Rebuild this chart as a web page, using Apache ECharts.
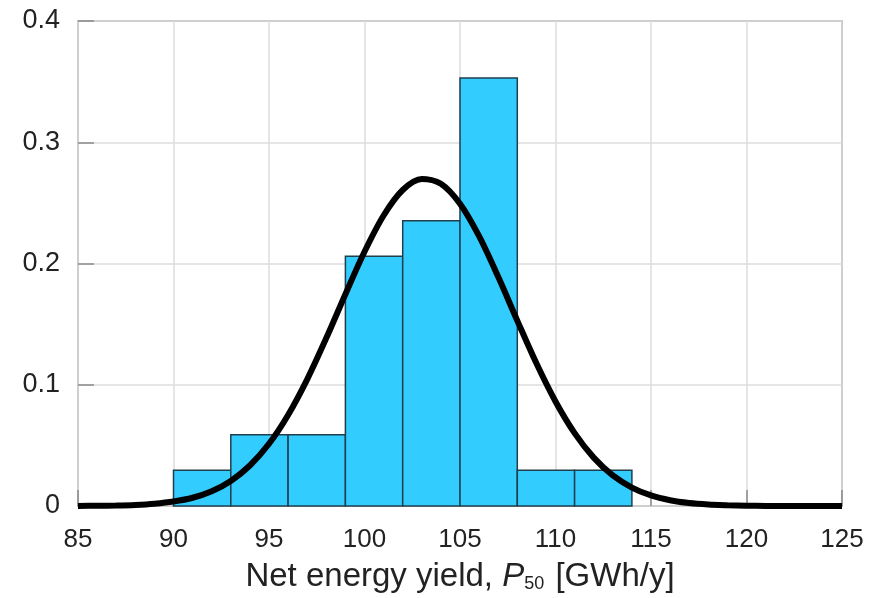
<!DOCTYPE html>
<html>
<head>
<meta charset="utf-8">
<script src="https://cdn.jsdelivr.net/npm/echarts@6/dist/echarts.min.js"></script>
<style>html,body{margin:0;padding:0;background:#fff;}#c{width:879px;height:598px;}</style>
</head>
<body>
<div id="c"></div>
<script>
// Histogram bins (GWh/y) and relative frequencies
const binStart = [90, 93, 96, 99, 102, 105, 108, 111];
const binEnd   = [93, 96, 99, 102, 105, 108, 111, 114];
const binFreq  = [0.0294, 0.0588, 0.0588, 0.2059, 0.2353, 0.3529, 0.0294, 0.0294];

// Fitted curve
const curveX = [85,86,87,88,89,90,91,92,93,94,95,96,97,98,99,100,101,102,103,104,105,
                106,107,108,109,110,111,112,113,114,115,116,117,118,119,120,121,122,123,124,125];
const curveY = [0.0001,0.0002,0.0004,0.0009,0.0019,0.0037,0.0068,0.0122,0.0207,0.0334,0.0513,
                0.0751,0.1045,0.1385,0.1747,0.2097,0.2396,0.2606,0.2697,0.2658,0.2493,
                0.2225,0.1890,0.1529,0.1177,0.0862,0.0601,0.0399,0.0252,0.0152,0.0087,
                0.0047,0.0024,0.0012,0.0006,0.0002,0.0001,0,0,0,0];

const xTicks = [85, 90, 95, 100, 105, 110, 115, 120, 125];
const yTicks = [0, 0.1, 0.2, 0.3, 0.4];

const chart = echarts.init(document.getElementById('c'));
const font = '"Liberation Sans", Arial, sans-serif';
const histData = binStart.map((s, i) => [s, binEnd[i], binFreq[i]]);
const lineData = curveX.map((x, i) => [x, curveY[i]]);

chart.setOption({
  animation: false,
  backgroundColor: '#ffffff',
  grid: { left: 78, right: 37, top: 21, bottom: 91, show: true, borderColor: '#8a8a8a', borderWidth: 1.5, backgroundColor: 'transparent' },
  xAxis: {
    type: 'value', min: xTicks[0], max: xTicks[xTicks.length - 1], interval: 5,
    axisLine: { show: false },
    axisTick: { show: true, inside: true, length: 16, lineStyle: { color: '#8a8a8a', width: 1.5 } },
    splitLine: { show: true, lineStyle: { color: '#dcdcdc', width: 1.5 } },
    axisLabel: { color: '#222', fontSize: 26, fontFamily: font, margin: 21 },
    name: '{a|Net energy yield, }{i|P}{s|50}{a| [GWh/y]}',
    nameLocation: 'middle', nameGap: 54,
    nameTextStyle: {
      rich: {
        a: { fontSize: 33, fontFamily: font, color: '#222' },
        i: { fontSize: 33, fontFamily: font, color: '#222', fontStyle: 'italic' },
        s: { fontSize: 18, fontFamily: font, color: '#222', verticalAlign: 'bottom', padding: [15, 2, 0, 0] }
      }
    }
  },
  yAxis: {
    type: 'value', min: 0, max: 0.4, interval: 0.1,
    axisLine: { show: false },
    axisTick: { show: true, inside: true, length: 16, lineStyle: { color: '#8a8a8a', width: 1.5 } },
    splitLine: { show: true, lineStyle: { color: '#dcdcdc', width: 1.5 } },
    axisLabel: { color: '#222', fontSize: 27, fontFamily: font, margin: 18,
      formatter: v => (Math.abs(v) < 1e-9 ? '0' : String(Math.round(v * 10) / 10)) }
  },
  series: [
    {
      type: 'custom',
      data: histData,
      z: 2,
      renderItem: function (params, api) {
        const p0 = api.coord([api.value(0), api.value(2)]);
        const p1 = api.coord([api.value(1), 0]);
        return {
          type: 'rect',
          shape: { x: p0[0], y: p0[1], width: p1[0] - p0[0], height: p1[1] - p0[1] },
          style: { fill: '#33ccff', stroke: '#1f3f4c', lineWidth: 1.5 }
        };
      },
      encode: { x: [0, 1], y: 2 }
    },
    {
      type: 'line',
      data: lineData,
      smooth: 0.3,
      symbol: 'none',
      z: 3,
      lineStyle: { color: '#000', width: 6 }
    }
  ]
});
</script>
</body>
</html>
